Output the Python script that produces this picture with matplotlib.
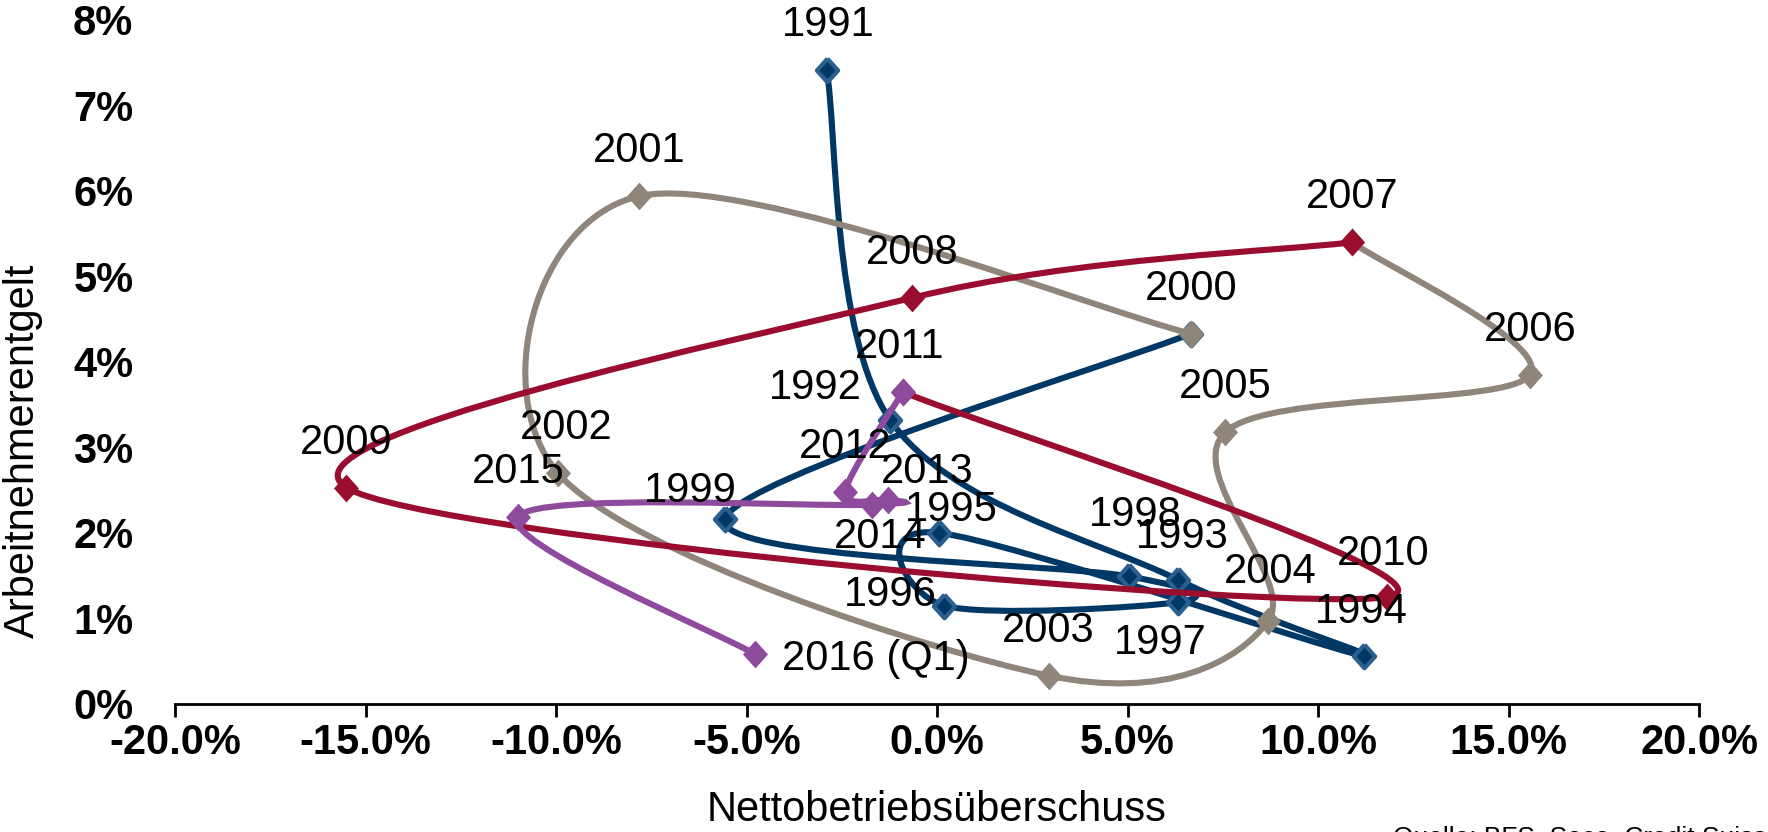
import numpy as np
import matplotlib
matplotlib.use('Agg')
import matplotlib.pyplot as plt
from matplotlib.path import Path
from matplotlib.patches import PathPatch

plt.rcParams['font.family'] = ['Liberation Sans', 'DejaVu Sans']

# ---------------------------------------------
# data (in percent)
# ---------------------------------------------
blue_years = ['1991', '1992', '1993', '1994', '1995', '1996', '1997', '1998', '1999', '2000']
blue_x = [-2.9, -1.23, 6.33, 11.2, 0.06, 0.18, 6.33, 5.05, -5.57, 6.66]
blue_y = [7.42, 3.32, 1.45, 0.56, 2.0, 1.15, 1.19, 1.49, 2.16, 4.33]

grey_years = ['2000', '2001', '2002', '2003', '2004', '2005', '2006', '2007']
grey_x = [6.66, -7.81, -9.95, 2.93, 8.69, 7.57, 15.56, 10.89]
grey_y = [4.33, 5.94, 2.7, 0.33, 0.97, 3.18, 3.85, 5.4]

red_years = ['2007', '2008', '2009', '2010', '2011']
red_x = [10.89, -0.65, -15.5, 11.8, -0.9]
red_y = [5.4, 4.75, 2.53, 1.25, 3.65]

purple_years = ['2011', '2012', '2013', '2014', '2015', '2016 (Q1)']
purple_x = [-0.9, -2.41, -1.29, -1.71, -11.0, -4.77]
purple_y = [3.65, 2.48, 2.39, 2.33, 2.19, 0.58]

x_ticks = [-20, -15, -10, -5, 0, 5, 10, 15, 20]
y_ticks = [0, 1, 2, 3, 4, 5, 6, 7, 8]

# label offsets in pixels (default: straight above the marker)
label_offset = {
    '1991': (2, 45), '1992': (-75, 32), '1993': (4, 43), '1994': (-2, 44),
    '1995': (12, 23), '1996': (-54, 11), '1997': (-18, -41), '1998': (6, 61),
    '1999': (-35, 28), '2002': (8, 45), '2004': (2, 49), '2010': (-3, 43),
    '2011': (-3, 45), '2013': (39, 28), '2014': (8, -32),
}

BLUE = '#003865'
BLUE_MK = '#2b5f8f'
GREY = '#8f857b'
RED = '#9b0d2e'
PURPLE = '#8e4a9c'


def smooth_path(xs, ys):
    # Excel-like smoothed line (cubic bezier through the points)
    pts = np.column_stack([xs, ys]).astype(float)
    n = len(pts)
    verts = [pts[0]]
    codes = [Path.MOVETO]
    for i in range(n - 1):
        p0 = pts[i - 1] if i > 0 else pts[i]
        p1 = pts[i]
        p2 = pts[i + 1]
        p3 = pts[i + 2] if i + 2 < n else pts[i + 1]
        verts += [p1 + (p2 - p0) / 6, p2 - (p3 - p1) / 6, p2]
        codes += [Path.CURVE4] * 3
    return Path(verts, codes)


diamond = [(0, 1), (0.9, 0), (0, -1), (-0.9, 0), (0, 1)]

fig = plt.figure(figsize=(17.68, 8.32), dpi=100)
ax = fig.add_axes([0.099, 0.154, 0.862, 0.822])

series = [
    (blue_years, blue_x, blue_y, BLUE, BLUE, BLUE_MK, 3.0),
    (grey_years, grey_x, grey_y, GREY, GREY, GREY, 0),
    (red_years, red_x, red_y, RED, RED, RED, 0),
    (purple_years, purple_x, purple_y, PURPLE, PURPLE, PURPLE, 0),
]

for k, (yrs, xs, ys, lc, mfc, mec, mew) in enumerate(series):
    ax.add_patch(PathPatch(smooth_path(xs, ys), facecolor='none', edgecolor=lc,
                           lw=4.4, capstyle='round', zorder=2 + k))
    ax.plot(xs, ys, linestyle='none', marker=diamond, markersize=20 if mew == 0 else 17,
            markerfacecolor=mfc, markeredgecolor=mec, markeredgewidth=mew, zorder=2 + k)

# year labels (shared endpoints labelled once)
done = set()
for yrs, xs, ys, *_ in series:
    for yr, x, y in zip(yrs, xs, ys):
        if yr in done:
            continue
        done.add(yr)
        if yr.startswith('2016'):
            ax.annotate(yr, (x, y), xytext=(27, -5), textcoords='offset pixels',
                        ha='left', va='center', fontsize=30, zorder=10)
        else:
            ax.annotate(yr, (x, y), xytext=label_offset.get(yr, (0, 45)),
                        textcoords='offset pixels', ha='center', va='center',
                        fontsize=30, zorder=10)

ax.set_xlim(-20, 20)
ax.set_ylim(0, 8)
ax.set_xticks(x_ticks)
ax.set_xticklabels([f'{v:.1f}%' for v in x_ticks], fontsize=30, fontweight='bold')
ax.set_yticks(y_ticks)
ax.set_yticklabels([f'{v}%' for v in y_ticks], fontsize=30, fontweight='bold')
ax.tick_params(axis='x', direction='out', length=9, width=2, pad=5)
ax.tick_params(axis='y', length=0, pad=30)
for s in ['top', 'right', 'left']:
    ax.spines[s].set_visible(False)
ax.spines['bottom'].set_linewidth(2)

ax.set_xlabel('Nettobetriebsüberschuss', fontsize=30)
ax.xaxis.set_label_coords(0.5, -0.155)
ax.xaxis.label.set_verticalalignment('center')
ax.set_ylabel('Arbeitnehmerentgelt', fontsize=30)
ax.yaxis.set_label_coords(-0.100, 0.37)
ax.yaxis.label.set_verticalalignment('center')

fig.text(0.788, -0.016, 'Quelle: BFS, Seco, Credit Suisse', fontsize=19,
         ha='left', va='baseline')

fig.savefig('out.png', dpi=100)
